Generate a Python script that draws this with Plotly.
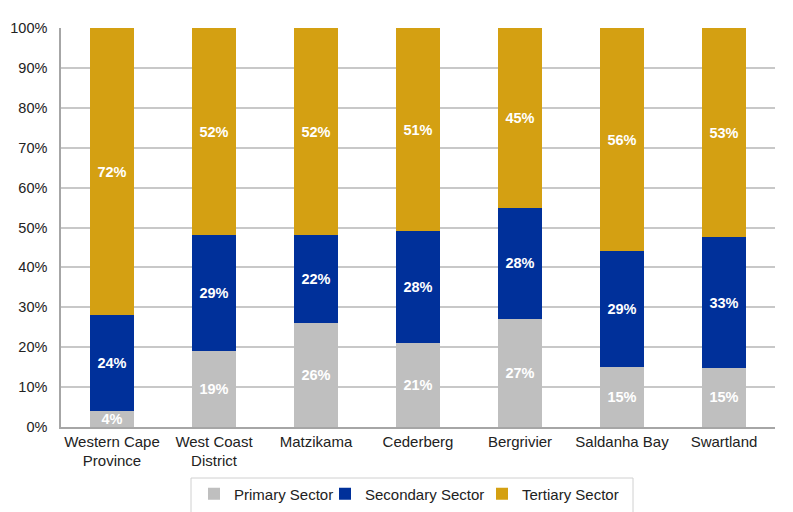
import plotly.graph_objects as go

categories = ["Western Cape<br>Province", "West Coast<br>District", "Matzikama",
              "Cederberg", "Bergrivier", "Saldanha Bay", "Swartland"]
primary = [4, 19, 26, 21, 27, 15, 15]
secondary = [24, 29, 22, 28, 28, 29, 33]
tertiary = [72, 52, 52, 51, 45, 56, 53]

series_names = ["Primary Sector", "Secondary Sector", "Tertiary Sector"]
series_values = [primary, secondary, tertiary]
series_colors = ["#BFBFBF", "#00309A", "#D4A012"]
legend_ids = ["legend", "legend2", "legend3"]

FONT = "Liberation Sans, Arial, sans-serif"
OFF = 8  # page body margin

W, H = 793 - OFF, 512 - OFF
# plot area in reference page pixels: x 61..775, y 28..427
L, R, T, B = 61 - OFF, 793 - 775, 28 - OFF, 512 - 427
pw, ph = W - L - R, H - T - B

def px_x(x):
    return (x - OFF - L) / pw

def px_y(y):
    return (H - B - (y - OFF)) / ph

fig = go.Figure()
for name, vals, color, lid in zip(series_names, series_values, series_colors, legend_ids):
    fig.add_trace(go.Bar(
        x=categories, y=vals, name=name, legend=lid,
        marker=dict(color=color, line=dict(width=0)),
        text=[f"{v}%" for v in vals],
        textposition="inside", insidetextanchor="middle", textangle=0,
        constraintext="none",
        textfont=dict(color="white", size=14.5, family=FONT, weight="bold"),
    ))

legend_x = [194, 325, 482]
leg_common = dict(orientation="h", xanchor="left", y=px_y(494), yanchor="middle",
                  font=dict(size=15, color="#222222", family=FONT),
                  bgcolor="rgba(0,0,0,0)", itemwidth=30)

fig.update_layout(
    width=W, height=H,
    barmode="stack", barnorm="percent", bargap=0.56,
    margin=dict(l=L, r=R, t=T, b=B, autoexpand=False),
    paper_bgcolor="white", plot_bgcolor="white",
    font=dict(family=FONT, size=15, color="#222222"),
    showlegend=True,
    legend=dict(x=px_x(legend_x[0]), **leg_common),
    legend2=dict(x=px_x(legend_x[1]), **leg_common),
    legend3=dict(x=px_x(legend_x[2]), **leg_common),
    xaxis=dict(showline=True, linecolor="#A6A6A6", linewidth=1.5, ticks="",
               tickfont=dict(size=15), showgrid=False, automargin=False),
    yaxis=dict(range=[0, 100], dtick=10, ticksuffix="%", showline=True,
               linecolor="#A6A6A6", linewidth=1.5, showgrid=True,
               gridcolor="#C8C8C8", gridwidth=1.5, tickfont=dict(size=14.5),
               ticks="", zeroline=False, automargin=False, ticklabelstandoff=9),
    shapes=[dict(type="rect", xref="paper", yref="paper",
                 x0=px_x(191), x1=px_x(633), y0=px_y(478), y1=px_y(530),
                 line=dict(color="#D0D0D0", width=1), fillcolor="rgba(0,0,0,0)", layer="below")],
)

fig.write_html("out.html")
